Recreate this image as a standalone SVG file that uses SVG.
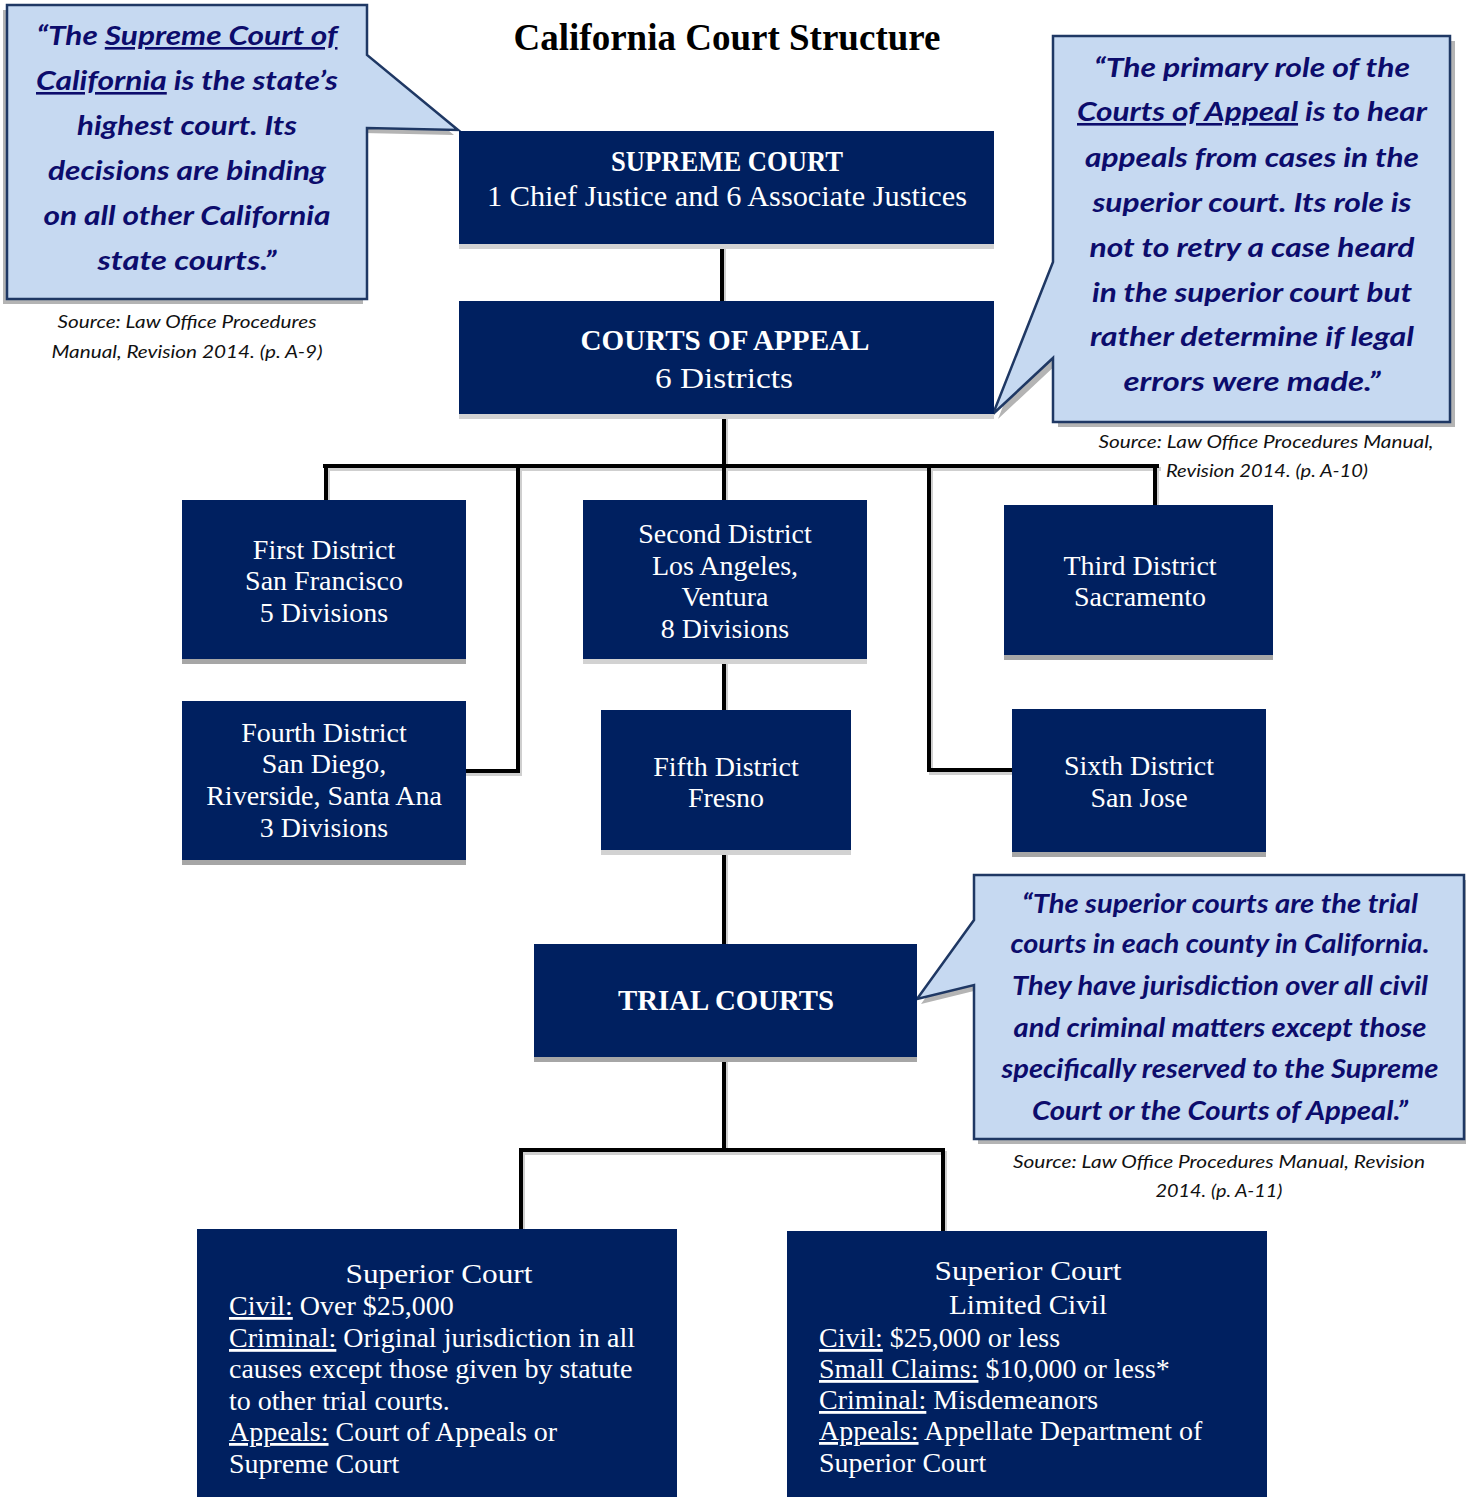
<svg xmlns="http://www.w3.org/2000/svg" width="1466" height="1497" viewBox="0 0 1466 1497">
<defs>
<style>
.node{fill:#002060}
.shL{fill:#d2d2d2}
.shD{fill:#a6a6a6}
.nt{font-family:"Liberation Serif",serif;fill:#ffffff;text-anchor:middle;font-size:29px}
.dt{font-size:28px}
.nb{font-weight:bold}
.bt{font-family:"Liberation Serif",serif;fill:#ffffff;font-size:28px}
.u{text-decoration:underline}
.co{fill:#c6d9f1;stroke:#1f3864;stroke-width:2.5;stroke-linejoin:miter}
.cosh{fill:#b4b4b4}
.ct{font-family:Lato,"Open Sans",sans-serif;font-weight:bold;font-style:italic;fill:#0c0c6c;text-anchor:middle;font-size:26px}
.src{font-family:Lato,"Open Sans",sans-serif;font-style:italic;fill:#111111;text-anchor:middle;font-size:18px}
.ln{fill:none;stroke:#000000;stroke-width:4;stroke-linecap:square}
.lnsh{fill:none;stroke:#cfcfcf;stroke-width:4;stroke-linecap:square}
</style>
</defs>
<rect width="1466" height="1497" fill="#ffffff"/>

<g id="title">
<text x="727" y="50" font-family="Liberation Serif, serif" font-weight="bold" font-size="37" text-anchor="middle" fill="#000000" textLength="427" lengthAdjust="spacingAndGlyphs">California Court Structure</text>
</g>

<g id="connectors">
<g transform="translate(2,3)">
<path class="lnsh" d="M722,245V301"/>
<path class="lnsh" d="M724,414V466"/>
<path class="lnsh" d="M325,466H1157"/>
<path class="lnsh" d="M326,466V500"/>
<path class="lnsh" d="M518,466V771H466"/>
<path class="lnsh" d="M724,466V500"/>
<path class="lnsh" d="M929,466V770H1012"/>
<path class="lnsh" d="M1155,466V505"/>
<path class="lnsh" d="M724,659V710"/>
<path class="lnsh" d="M724,850V944"/>
<path class="lnsh" d="M724,1057V1150"/>
<path class="lnsh" d="M521,1229V1150H943V1231"/>
</g>
<path class="ln" d="M722,245V301"/>
<path class="ln" d="M724,414V466"/>
<path class="ln" d="M325,466H1157"/>
<path class="ln" d="M326,466V500"/>
<path class="ln" d="M518,466V771H466"/>
<path class="ln" d="M724,466V500"/>
<path class="ln" d="M929,466V770H1012"/>
<path class="ln" d="M1155,466V505"/>
<path class="ln" d="M724,659V710"/>
<path class="ln" d="M724,850V944"/>
<path class="ln" d="M724,1057V1150"/>
<path class="ln" d="M521,1229V1150H943V1231"/>
</g>

<g id="callout-supreme">
<path class="cosh" d="M3,10H363V60L454,135L363,133V304H3Z"/>
<path class="co" d="M7,5H367V55L458,130L367,128V299H7Z"/>
<text class="ct" x="187" y="45" textLength="301" lengthAdjust="spacingAndGlyphs">“The <tspan class="u">Supreme Court of</tspan></text>
<text class="ct" x="187" y="90" textLength="302" lengthAdjust="spacingAndGlyphs"><tspan class="u">California</tspan> is the state’s</text>
<text class="ct" x="187" y="135" textLength="220" lengthAdjust="spacingAndGlyphs">highest court. Its</text>
<text class="ct" x="187" y="180" textLength="278" lengthAdjust="spacingAndGlyphs">decisions are binding</text>
<text class="ct" x="187" y="225" textLength="287" lengthAdjust="spacingAndGlyphs">on all other California</text>
<text class="ct" x="187" y="270" textLength="179" lengthAdjust="spacingAndGlyphs">state courts.”</text>
<text class="src" x="187" y="328" textLength="259" lengthAdjust="spacingAndGlyphs">Source: Law Office Procedures</text>
<text class="src" x="187" y="358" textLength="271" lengthAdjust="spacingAndGlyphs">Manual, Revision 2014. (p. A-9)</text>
</g>

<g id="callout-appeal">
<path class="cosh" d="M1058,41H1455V427H1058V363L998,419L1058,267Z"/>
<path class="co" d="M1053,36H1450V422H1053V358L993,414L1053,262Z"/>
<text class="ct" x="1252" y="77" textLength="316" lengthAdjust="spacingAndGlyphs">“The primary role of the</text>
<text class="ct" x="1252" y="121" textLength="350" lengthAdjust="spacingAndGlyphs"><tspan class="u">Courts of Appeal</tspan> is to hear</text>
<text class="ct" x="1252" y="167" textLength="334" lengthAdjust="spacingAndGlyphs">appeals from cases in the</text>
<text class="ct" x="1252" y="212" textLength="319" lengthAdjust="spacingAndGlyphs">superior court. Its role is</text>
<text class="ct" x="1252" y="257" textLength="325" lengthAdjust="spacingAndGlyphs">not to retry a case heard</text>
<text class="ct" x="1252" y="302" textLength="320" lengthAdjust="spacingAndGlyphs">in the superior court but</text>
<text class="ct" x="1252" y="346" textLength="324" lengthAdjust="spacingAndGlyphs">rather determine if legal</text>
<text class="ct" x="1252" y="391" textLength="257" lengthAdjust="spacingAndGlyphs">errors were made.”</text>
<text class="src" x="1266" y="448" textLength="335" lengthAdjust="spacingAndGlyphs">Source: Law Office Procedures Manual,</text>
<text class="src" x="1267" y="477" textLength="202" lengthAdjust="spacingAndGlyphs">Revision 2014. (p. A-10)</text>
</g>

<g id="callout-trial">
<path class="cosh" d="M978,880H1468V1144H978V990L921,1004L978,925Z"/>
<path class="co" d="M974,875H1464V1139H974V985L917,999L974,920Z"/>
<text class="ct" x="1220" y="913" font-size="25" textLength="396" lengthAdjust="spacingAndGlyphs">“The superior courts are the trial</text>
<text class="ct" x="1220" y="953" font-size="25" textLength="419" lengthAdjust="spacingAndGlyphs">courts in each county in California.</text>
<text class="ct" x="1220" y="995" font-size="25" textLength="416" lengthAdjust="spacingAndGlyphs">They have jurisdiction over all civil</text>
<text class="ct" x="1220" y="1037" font-size="25" textLength="413" lengthAdjust="spacingAndGlyphs">and criminal matters except those</text>
<text class="ct" x="1220" y="1078" font-size="25" textLength="437" lengthAdjust="spacingAndGlyphs">specifically reserved to the Supreme</text>
<text class="ct" x="1220" y="1120" font-size="25" textLength="376" lengthAdjust="spacingAndGlyphs">Court or the Courts of Appeal.”</text>
<text class="src" x="1219" y="1168" textLength="412" lengthAdjust="spacingAndGlyphs">Source: Law Office Procedures Manual, Revision</text>
<text class="src" x="1219" y="1197" textLength="127" lengthAdjust="spacingAndGlyphs">2014. (p. A-11)</text>
</g>

<g id="supreme-court">
<rect class="shL" x="459" y="244" width="535" height="5"/>
<rect class="node" x="459" y="131" width="535" height="113"/>
<text class="nt nb" x="727" y="171" font-size="27" textLength="232" lengthAdjust="spacingAndGlyphs">SUPREME COURT</text>
<text class="nt" x="727" y="206" textLength="480" lengthAdjust="spacingAndGlyphs">1 Chief Justice and 6 Associate Justices</text>
</g>

<g id="courts-of-appeal">
<rect class="shL" x="459" y="414" width="535" height="5"/>
<rect class="node" x="459" y="301" width="535" height="113"/>
<text class="nt nb" x="725" y="350" textLength="289" lengthAdjust="spacingAndGlyphs">COURTS OF APPEAL</text>
<text class="nt" x="724" y="388" font-size="30" textLength="138" lengthAdjust="spacingAndGlyphs">6 Districts</text>
</g>

<g id="first-district">
<rect class="shD" x="182" y="659" width="284" height="5"/>
<rect class="node" x="182" y="500" width="284" height="159"/>
<text class="nt dt" x="324" y="559">First District</text>
<text class="nt dt" x="324" y="590">San Francisco</text>
<text class="nt dt" x="324" y="622">5 Divisions</text>
</g>

<g id="second-district">
<rect class="shL" x="583" y="659" width="284" height="5"/>
<rect class="node" x="583" y="500" width="284" height="159"/>
<text class="nt dt" x="725" y="543">Second District</text>
<text class="nt dt" x="725" y="575">Los Angeles,</text>
<text class="nt dt" x="725" y="606">Ventura</text>
<text class="nt dt" x="725" y="638">8 Divisions</text>
</g>

<g id="third-district">
<rect class="shD" x="1004" y="655" width="269" height="5"/>
<rect class="node" x="1004" y="505" width="269" height="150"/>
<text class="nt dt" x="1140" y="575">Third District</text>
<text class="nt dt" x="1140" y="606">Sacramento</text>
</g>

<g id="fourth-district">
<rect class="shD" x="182" y="860" width="284" height="5"/>
<rect class="node" x="182" y="701" width="284" height="159"/>
<text class="nt dt" x="324" y="742">Fourth District</text>
<text class="nt dt" x="324" y="773">San Diego,</text>
<text class="nt dt" x="324" y="805">Riverside, Santa Ana</text>
<text class="nt dt" x="324" y="837">3 Divisions</text>
</g>

<g id="fifth-district">
<rect class="shL" x="601" y="850" width="250" height="5"/>
<rect class="node" x="601" y="710" width="250" height="140"/>
<text class="nt dt" x="726" y="776">Fifth District</text>
<text class="nt dt" x="726" y="807">Fresno</text>
</g>

<g id="sixth-district">
<rect class="shD" x="1012" y="852" width="254" height="5"/>
<rect class="node" x="1012" y="709" width="254" height="143"/>
<text class="nt dt" x="1139" y="775">Sixth District</text>
<text class="nt dt" x="1139" y="807">San Jose</text>
</g>

<g id="trial-courts">
<rect class="shD" x="534" y="1057" width="383" height="5"/>
<rect class="node" x="534" y="944" width="383" height="113"/>
<text class="nt nb" x="726" y="1010" textLength="216" lengthAdjust="spacingAndGlyphs">TRIAL COURTS</text>
</g>

<g id="superior-court">
<rect class="node" x="197" y="1229" width="480" height="268"/>
<text class="bt" x="439" y="1283" text-anchor="middle" font-size="30" textLength="187" lengthAdjust="spacingAndGlyphs">Superior Court</text>
<text class="bt" x="229" y="1315"><tspan class="u">Civil:</tspan> Over $25,000</text>
<text class="bt" x="229" y="1347"><tspan class="u">Criminal:</tspan> Original jurisdiction in all</text>
<text class="bt" x="229" y="1378">causes except those given by statute</text>
<text class="bt" x="229" y="1410">to other trial courts.</text>
<text class="bt" x="229" y="1441"><tspan class="u">Appeals:</tspan> Court of Appeals or</text>
<text class="bt" x="229" y="1473">Supreme Court</text>
</g>

<g id="superior-court-limited">
<rect class="node" x="787" y="1231" width="480" height="266"/>
<text class="bt" x="1028" y="1280" text-anchor="middle" font-size="30" textLength="187" lengthAdjust="spacingAndGlyphs">Superior Court</text>
<text class="bt" x="1028" y="1314" text-anchor="middle" font-size="29" textLength="158" lengthAdjust="spacingAndGlyphs">Limited Civil</text>
<text class="bt" x="819" y="1347"><tspan class="u">Civil:</tspan> $25,000 or less</text>
<text class="bt" x="819" y="1378"><tspan class="u">Small Claims:</tspan> $10,000 or less*</text>
<text class="bt" x="819" y="1409"><tspan class="u">Criminal:</tspan> Misdemeanors</text>
<text class="bt" x="819" y="1440"><tspan class="u">Appeals:</tspan> Appellate Department of</text>
<text class="bt" x="819" y="1472">Superior Court</text>
</g>
</svg>
